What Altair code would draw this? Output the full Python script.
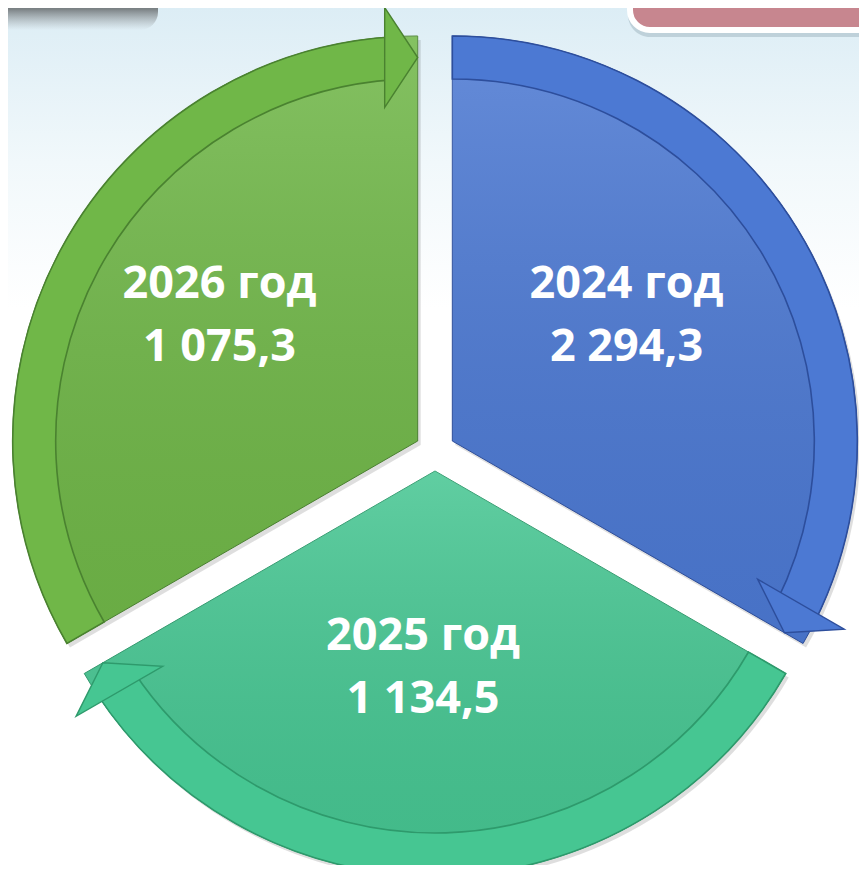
import math
import altair as alt
import pandas as pd

# ---- data ----
years = ["2024 год", "2025 год", "2026 год"]
values = [2294.3, 1134.5, 1075.3]
value_labels = ["2 294,3", "1 134,5", "1 075,3"]

# ---- styles ----
fill_colors = ["#4C79D3", "#46C692", "#70B748"]
band_colors = ["#4F7DD6", "#45C490", "#6DB545"]
edge_colors = ["#2D4E9C", "#2E9A6C", "#4A8230"]

W, H = 851, 857
CX, CY = 427, 443          # common centre of the cycle
R_OUT, R_IN = 405, 362     # outer radius and inner edge of arrow band
OFF = 20                   # explosion offset of each segment
TIP_R = (R_OUT + R_IN) / 2
LABEL_R = 215
N = len(years)

df = pd.DataFrame({
    "year": years,
    "value": values,
    "label": value_labels,
    "txt": [f"{y}\n{v}" for y, v in zip(years, value_labels)],
    "i": list(range(N)),
})

PI = "PI"
step = f"(2*{PI}/{N})"
base = alt.Chart(df).transform_calculate(
    t0=f"datum.i*{step}",
    t1=f"(datum.i+1)*{step}",
).transform_calculate(
    mid="(datum.t0+datum.t1)/2",
    tb="datum.t1-0.06",
).transform_calculate(
    cx=f"{CX}+{OFF}*sin(datum.mid)",
    cy=f"{CY}-{OFF}*cos(datum.mid)",
).transform_calculate(
    sx="datum.cx+3",
    sy="datum.cy+4",
    ax=f"datum.cx+{TIP_R}*sin(datum.t1)",
    ay=f"datum.cy-{TIP_R}*cos(datum.t1)",
    adeg=f"datum.t1*180/{PI}",
    lx=f"datum.cx+{LABEL_R}*sin(datum.mid)",
    ly=f"datum.cy-{LABEL_R}*cos(datum.mid)",
)

fill_scale = alt.Scale(domain=years, range=fill_colors)
band_scale = alt.Scale(domain=years, range=band_colors)
edge_scale = alt.Scale(domain=years, range=edge_colors)

def XY(xf, yf):
    return dict(x=alt.X(f"{xf}:Q", scale=None, axis=None),
                y=alt.Y(f"{yf}:Q", scale=None, axis=None))

one = pd.DataFrame({"k": [0]})

background = alt.Chart(one).mark_rect(
    color=alt.LinearGradient(
        gradient="linear", x1=0, x2=0, y1=0, y2=1,
        stops=[alt.GradientStop(offset=0, color="#DCEDF5"),
               alt.GradientStop(offset=0.18, color="#F1F8FB"),
               alt.GradientStop(offset=0.35, color="#FFFFFF"),
               alt.GradientStop(offset=1, color="#FFFFFF")])
).encode(x=alt.value(0), x2=alt.value(W), y=alt.value(0), y2=alt.value(H))

box_shadow = alt.Chart(one).mark_rect(
    fill="#9DB3BE", opacity=0.5, cornerRadius=22
).encode(x=alt.value(620), x2=alt.value(900), y=alt.value(-40), y2=alt.value(29))

pink_box = alt.Chart(one).mark_rect(
    fill="#C7868F", stroke="white", strokeWidth=6, cornerRadius=20
).encode(x=alt.value(622), x2=alt.value(900), y=alt.value(-40), y2=alt.value(22))

dark_blob = alt.Chart(one).mark_rect(
    cornerRadius=18,
    color=alt.LinearGradient(
        gradient="linear", x1=0, x2=0, y1=0, y2=1,
        stops=[alt.GradientStop(offset=0, color="rgba(30,30,30,0.95)"),
               alt.GradientStop(offset=0.6, color="rgba(60,60,60,0.6)"),
               alt.GradientStop(offset=1, color="rgba(120,120,120,0)")])
).encode(x=alt.value(-30), x2=alt.value(150), y=alt.value(-30), y2=alt.value(22))

yellow_dot = alt.Chart(one).mark_point(
    filled=True, color="#F2E000", size=50, opacity=1
).encode(x=alt.value(55), y=alt.value(-5))

shadow = base.mark_arc(outerRadius=R_OUT, color="#000000", opacity=0.13).encode(
    theta=alt.Theta("t0:Q", scale=None), theta2="t1:Q", **XY("sx", "sy"))

wedges = base.mark_arc(outerRadius=R_OUT, strokeWidth=1).encode(
    theta=alt.Theta("t0:Q", scale=None), theta2="t1:Q",
    fill=alt.Fill("year:N", scale=fill_scale, legend=None),
    stroke=alt.Stroke("year:N", scale=edge_scale, legend=None),
    **XY("cx", "cy"))

gloss = base.mark_arc(
    outerRadius=R_OUT,
    color=alt.LinearGradient(
        gradient="linear", x1=0, x2=0, y1=0, y2=1,
        stops=[alt.GradientStop(offset=0, color="rgba(255,255,255,0.14)"),
               alt.GradientStop(offset=1, color="rgba(0,0,0,0.06)")])
).encode(theta=alt.Theta("t0:Q", scale=None), theta2="t1:Q", **XY("cx", "cy"))

bands = base.mark_arc(innerRadius=R_IN, outerRadius=R_OUT, strokeWidth=1.6).encode(
    theta=alt.Theta("t0:Q", scale=None), theta2="tb:Q",
    fill=alt.Fill("year:N", scale=band_scale, legend=None),
    stroke=alt.Stroke("year:N", scale=edge_scale, legend=None),
    **XY("cx", "cy"))

heads = base.mark_point(
    shape="M0,0 L-0.66,-1 L-0.66,1 Z", size=10000, filled=True,
    strokeWidth=1.4, opacity=1
).encode(
    angle=alt.Angle("adeg:Q", scale=None),
    fill=alt.Fill("year:N", scale=band_scale, legend=None),
    stroke=alt.Stroke("year:N", scale=edge_scale, legend=None),
    **XY("ax", "ay"))

labels = base.mark_text(
    color="#FFFFFF", font="Open Sans", fontSize=45, fontWeight="bold",
    lineBreak="\n", lineHeight=63, align="center", baseline="middle",
    dx=-12, dy=-50
).encode(text="txt:N", **XY("lx", "ly"))

chart = alt.layer(
    background, box_shadow, pink_box, dark_blob, yellow_dot,
    shadow, wedges, gloss, bands, heads, labels
).properties(
    width=W, height=H, padding=0, autosize=alt.AutoSizeParams(type="none")
).configure_view(stroke=None)

chart.save("out.html", embed_options={"renderer": "svg", "actions": False})
